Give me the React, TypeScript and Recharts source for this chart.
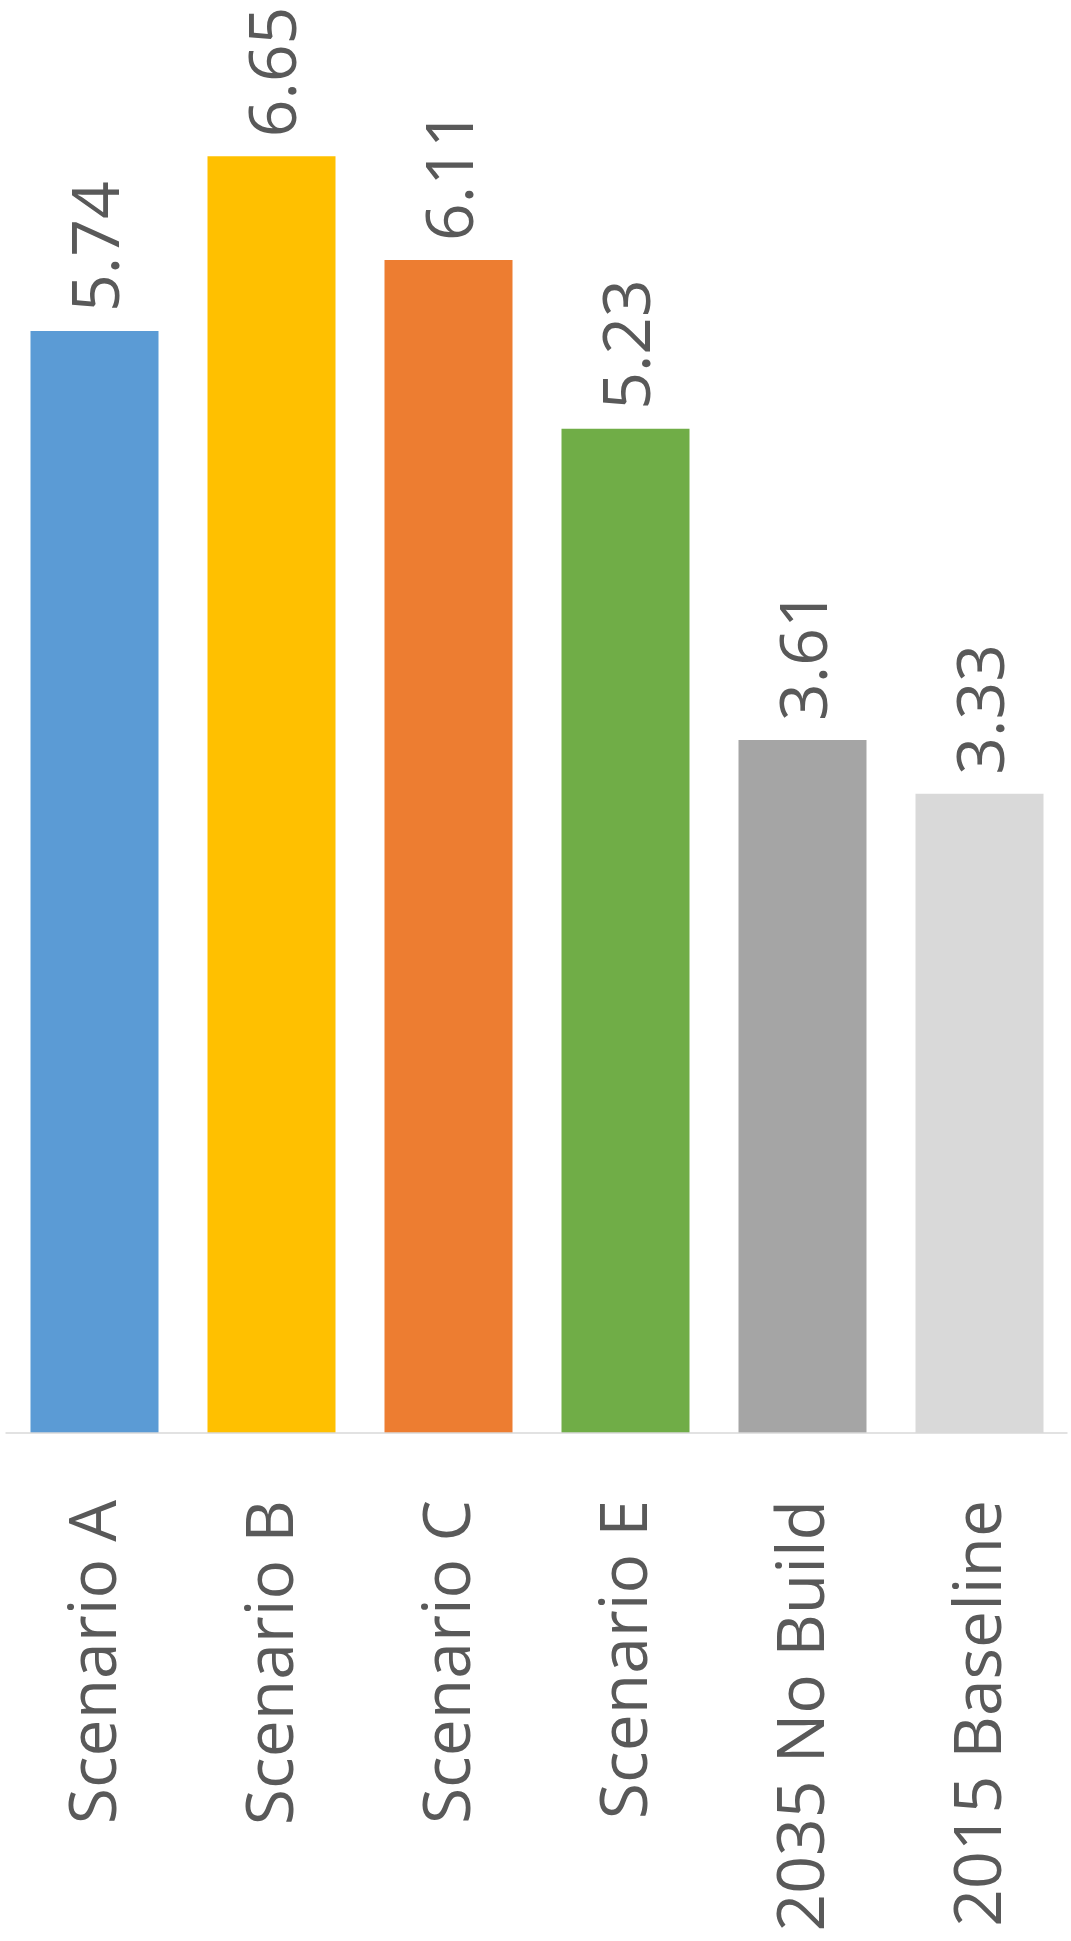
import { BarChart, Bar, XAxis, YAxis, Cell, LabelList } from "recharts";

const categories = ["Scenario A", "Scenario B", "Scenario C", "Scenario E", "2035 No Build", "2015 Baseline"];
const values = [5.74, 6.65, 6.11, 5.23, 3.61, 3.33];
const colors = ["#5B9BD5", "#FFC000", "#ED7D31", "#70AD47", "#A5A5A5", "#D9D9D9"];

const data = categories.map((name, i) => ({ name, value: values[i] }));

const FONT = "'Open Sans', sans-serif";
const TEXT = "#595959";

function CategoryTick(props: any) {
  const { x, y, payload } = props;
  const bx = x + 22;
  const by = y + 67;
  return (
    <text
      x={bx}
      y={by}
      transform={`rotate(-90, ${bx}, ${by})`}
      textAnchor="end"
      fontFamily={FONT}
      fontSize={66}
      fill={TEXT}
    >
      {payload.value}
    </text>
  );
}

function ValueLabel(props: any) {
  const { x, y, width, value } = props;
  const bx = x + width / 2 + 25;
  const by = y - 19;
  return (
    <text
      x={bx}
      y={by}
      transform={`rotate(-90, ${bx}, ${by})`}
      textAnchor="start"
      fontFamily={FONT}
      fontSize={66}
      fill={TEXT}
    >
      {value.toFixed(2)}
    </text>
  );
}

export default function App() {
  return (
    <div style={{ position: "absolute", left: 0, top: 0, background: "#fff" }}>
      <BarChart
        width={1071}
        height={1941}
        data={data}
        margin={{ top: 89, right: 3.5, left: 5.5, bottom: 0 }}
      >
        <XAxis
          dataKey="name"
          height={508}
          interval={0}
          tickLine={false}
          tickSize={0}
          tickMargin={0}
          axisLine={{ stroke: "#D9D9D9", strokeWidth: 1.5 }}
          tick={<CategoryTick />}
        />
        <YAxis hide domain={[0, 7]} />
        <Bar dataKey="value" barSize={128} isAnimationActive={false}>
          {data.map((d, i) => (
            <Cell key={d.name} fill={colors[i]} />
          ))}
          <LabelList dataKey="value" content={<ValueLabel />} />
        </Bar>
      </BarChart>
    </div>
  );
}
